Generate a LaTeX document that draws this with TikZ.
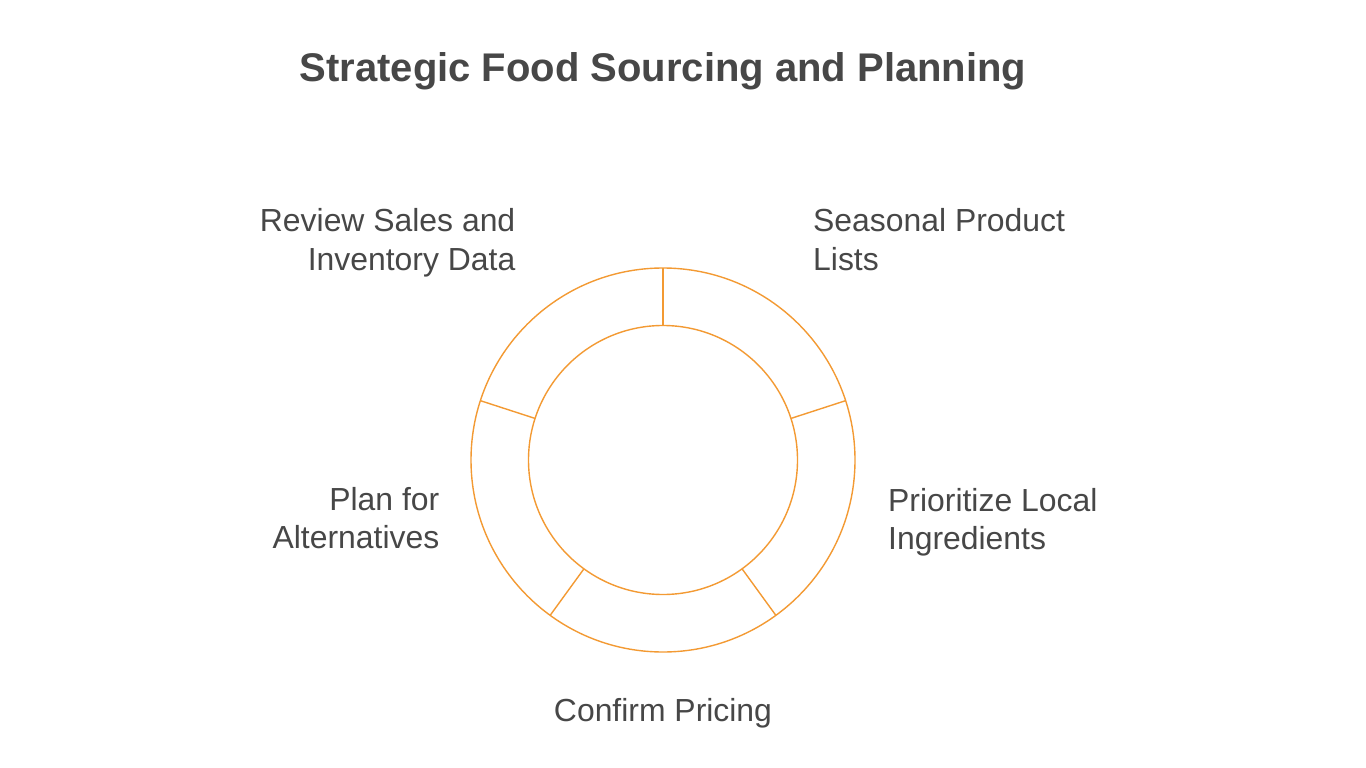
\documentclass[tikz,border=0pt]{standalone}
\usepackage{fontspec}
\setmainfont{Liberation Sans}
\usetikzlibrary{calc}
\definecolor{txt}{HTML}{474747}
\definecolor{ring}{HTML}{F39A33}
\begin{document}
\begin{tikzpicture}[x=1pt,y=-1pt,
  lbl/.style={text=txt,font=\fontsize{31.9}{38.5}\selectfont,inner sep=0pt},
  ringline/.style={draw=ring,line width=1.4pt}]
\useasboundingbox[fill=white] (0,0) rectangle (1366,768);
\node[text=txt,font=\bfseries\fontsize{40}{48}\selectfont,inner sep=0pt] (title) at (663,71) {Strategic Food Sourcing and Planning};
\coordinate (c) at (663,460);
\draw[ringline] (c) circle[radius=192];
\draw[ringline] (c) circle[radius=134.5];
\foreach \a/\n in {90/a,18/b,-54/c,-126/d,162/e}{
  \coordinate (i\n) at ($(c)+({cos(\a)*134.5},{-sin(\a)*134.5})$);
  \coordinate (o\n) at ($(c)+({cos(\a)*192},{-sin(\a)*192})$);
  \draw[ringline] (i\n) -- (o\n);
}
\node[lbl,align=right,anchor=east] (review) at (515.5,243) {Review Sales and\\Inventory Data};
\node[lbl,align=left,anchor=west] (seasonal) at (813,239.5) {Seasonal Product\\Lists};
\node[lbl,align=left,anchor=west] (local) at (888,522) {Prioritize Local\\Ingredients};
\node[lbl,align=right,anchor=east] (alt) at (439.5,518) {Plan for\\Alternatives};
\node[lbl] (pricing) at (663,713) {Confirm Pricing};
\end{tikzpicture}
\end{document}
